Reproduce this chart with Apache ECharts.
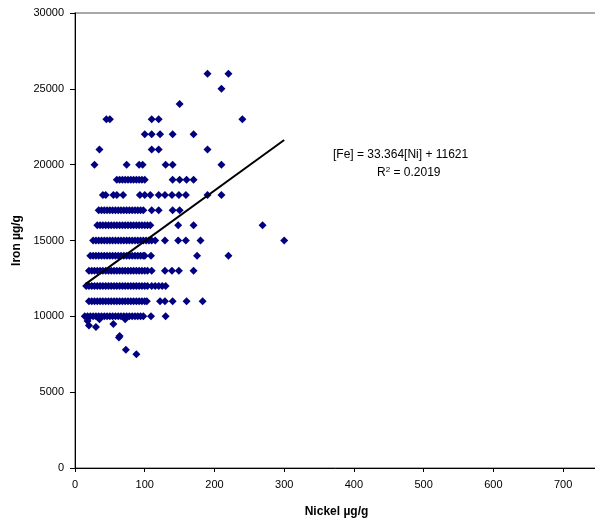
<!DOCTYPE html>
<html>
<head>
<meta charset="utf-8">
<script src="https://cdn.jsdelivr.net/npm/echarts@6/dist/echarts.min.js"></script>
<style>html,body{margin:0;padding:0;background:#fff}#c{width:595px;height:523px}</style>
</head>
<body>
<div id="c"></div>
<script>
// Nickel (µg/g) values for each iron level (µg/g)
const fe26000 = [190, 220];
const fe25000 = [210];
const fe24000 = [150];
const fe23000 = [45, 50, 110, 120, 240];
const fe22000 = [100, 110, 122, 140, 170];
const fe21000 = [35, 110, 120, 190];
const fe20000 = [28, 74, 92, 97, 130, 140, 210];
const fe19000 = [60, 64, 68, 72, 76, 80, 84, 88, 92, 96, 100, 140, 150, 160, 170];
const fe18000 = [40, 44, 55, 60, 69, 93, 100, 108, 120, 129, 139, 149, 159, 190, 210];
const fe17000 = [34, 38, 42, 46, 50, 54, 58, 62, 66, 70, 74, 78, 82, 86, 90, 94, 98, 110, 120, 140, 150];
const fe16000 = [32, 36, 40, 44, 48, 52, 56, 60, 64, 68, 72, 76, 80, 84, 88, 92, 96, 100, 104, 108, 148, 170, 269];
const fe15000 = [26, 30, 34, 38, 42, 46, 50, 54, 58, 62, 66, 70, 74, 78, 82, 86, 90, 94, 98, 102, 106, 110, 115, 129, 148, 159, 180, 300];
const fe14000 = [22, 26, 30, 34, 38, 42, 46, 50, 54, 58, 62, 66, 70, 74, 78, 82, 86, 90, 94, 98, 100, 109, 175, 220];
const fe13000 = [20, 24, 28, 32, 36, 40, 44, 48, 52, 56, 60, 64, 68, 72, 76, 80, 84, 88, 92, 96, 100, 104, 110, 129, 139, 149, 170];
const fe12000 = [16, 20, 24, 28, 32, 36, 40, 44, 48, 52, 56, 60, 64, 68, 72, 76, 80, 84, 88, 92, 96, 100, 104, 110, 115, 120, 125, 130];
const fe11000 = [20, 24, 28, 32, 36, 40, 44, 48, 52, 56, 60, 64, 68, 72, 76, 80, 84, 88, 92, 96, 100, 103, 122, 129, 140, 160, 183];
const fe10000 = [14, 18, 22, 26, 30, 34, 38, 42, 46, 50, 54, 58, 62, 66, 70, 74, 78, 82, 86, 90, 94, 98, 109, 130];
// points below 10000
const lowNickel = [18, 20, 30, 35, 55, 64, 63, 72, 73, 88];
const lowIron = [9700, 9400, 9300, 9800, 9500, 8700, 8600, 9800, 7800, 7500];
// trendline end points
const trendNickel = [15, 300];
const trendIron = [12121, 21630];
const equationText = '[Fe] = 33.364[Ni] + 11621';
const r2Value = '0.2019';

const rows = [
  [26000, fe26000], [25000, fe25000], [24000, fe24000], [23000, fe23000],
  [22000, fe22000], [21000, fe21000], [20000, fe20000], [19000, fe19000],
  [18000, fe18000], [17000, fe17000], [16000, fe16000], [15000, fe15000],
  [14000, fe14000], [13000, fe13000], [12000, fe12000], [11000, fe11000],
  [10000, fe10000]
];
const points = [];
rows.forEach(([fe, nis]) => nis.forEach(ni => points.push([ni, fe])));
lowNickel.forEach((ni, i) => points.push([ni, lowIron[i]]));
const trend = trendNickel.map((ni, i) => [ni, trendIron[i]]);

const font = '"Liberation Sans", Arial, sans-serif';
const chart = echarts.init(document.getElementById('c'), null, {renderer: 'canvas'});
chart.setOption({
  animation: false,
  backgroundColor: '#fff',
  grid: {left: 75, right: -3, top: 13, bottom: 55, containLabel: false, outerBoundsMode: 'none',
         show: true, borderColor: '#8c8c8c', borderWidth: 1.5},
  xAxis: {
    type: 'value', min: 0, max: 750, interval: 100,
    name: 'Nickel µg/g', nameLocation: 'middle', nameGap: 38,
    nameTextStyle: {fontFamily: font, fontWeight: 'bold', fontSize: 12, color: '#000'},
    axisLine: {show: true, lineStyle: {color: '#000', width: 1}},
    axisTick: {show: true, length: 4, lineStyle: {color: '#000'}},
    axisLabel: {fontFamily: font, fontSize: 11, color: '#000', margin: 11,
      formatter: v => (v > 700 ? '' : String(v))},
    splitLine: {show: false}
  },
  yAxis: {
    type: 'value', min: 0, max: 30000, interval: 5000,
    name: 'Iron µg/g', nameLocation: 'middle', nameGap: 52,
    nameTextStyle: {fontFamily: font, fontWeight: 'bold', fontSize: 12, color: '#000'},
    axisLine: {show: true, lineStyle: {color: '#000', width: 1}},
    axisTick: {show: true, length: 5, lineStyle: {color: '#000'}},
    axisLabel: {fontFamily: font, fontSize: 11, color: '#000', margin: 11,
      formatter: v => String(v)},
    splitLine: {show: false}
  },
  series: [
    {
      type: 'scatter', data: points, symbol: 'diamond', symbolSize: [8, 8],
      itemStyle: {color: '#000080', opacity: 1}, z: 2
    },
    {
      type: 'line', data: trend, symbol: 'none',
      lineStyle: {color: '#000', width: 2}, z: 3
    }
  ],
  graphic: [
    {type: 'text', left: 333, top: 149,
     style: {text: equationText, font: '12px ' + font, fill: '#000'}},
    {type: 'text', left: 377, top: 166,
     style: {text: '{a|R}{s|2}{a| = ' + r2Value + '}', font: '12px ' + font, fill: '#000',
       rich: {a: {fontFamily: font, fontSize: 12, fill: '#000'},
              s: {fontFamily: font, fontSize: 8, fill: '#000', verticalAlign: 'top', padding: [0, 0, 6, 0]}}}}
  ]
});
</script>
</body>
</html>
